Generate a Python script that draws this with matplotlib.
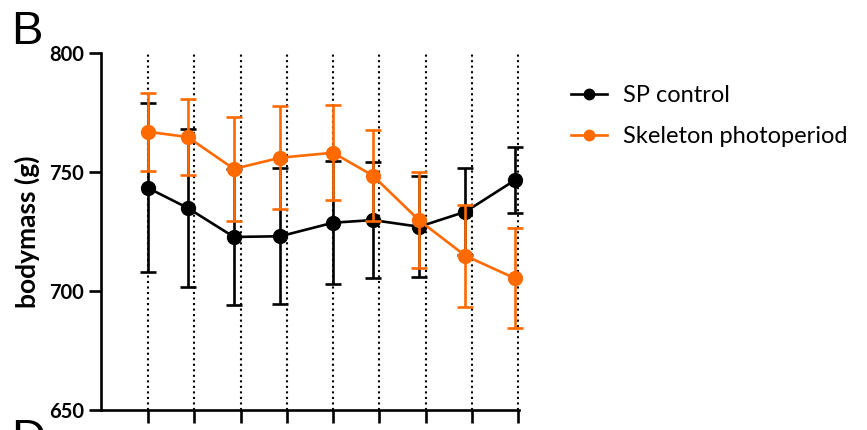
import numpy as np
import matplotlib.pyplot as plt
from matplotlib.lines import Line2D

#%% Data: body mass over time (mean +/- SD)
days          = [0, 6, 13, 20, 28, 34, 41, 48, 55.5]
week_ticks    = [0, 7, 14, 21, 28, 35, 42, 49, 56]

sp_mean       = [743.3, 734.9, 722.7, 723.0, 728.7, 729.8, 727.0, 733.3, 746.6]
sp_sd         = [35.5, 33.1, 28.6, 28.6, 25.9, 24.2, 21.3, 18.2, 14.0]

skel_mean     = [766.9, 764.7, 751.3, 756.0, 758.1, 748.5, 729.7, 714.8, 705.3]
skel_sd       = [16.3, 16.1, 22.0, 21.6, 19.9, 19.1, 20.1, 21.5, 21.0]

black         = '#000000'
orange        = '#FF6A00'

#%% Figure
plt.rcParams['font.family'] = ['Lato', 'DejaVu Sans']
fig = plt.figure(figsize=(8.67, 4.30), dpi=100)
ax  = fig.add_axes([101/867, 20/430, 418/867, 357/430])

err_kw = dict(marker='o', markersize=10, linewidth=1.9, elinewidth=1.9,
              capsize=6, capthick=1.9, clip_on=False)
ax.errorbar(days, sp_mean, yerr=sp_sd, color=black, zorder=3, **err_kw)
ax.errorbar(days, skel_mean, yerr=skel_sd, color=orange, zorder=4, **err_kw)

ax.set_xlim(-7.1, 56.1)
ax.set_ylim(650, 800)
ax.set_xticks(week_ticks)
ax.set_xticklabels([])
ax.set_yticks([650, 700, 750, 800])
ax.xaxis.grid(True, linestyle=':', color='black', linewidth=1.5, zorder=1)
ax.set_axisbelow(True)

for side in ['top', 'right']:
    ax.spines[side].set_visible(False)
for side in ['left', 'bottom']:
    ax.spines[side].set_linewidth(1.9)

ax.tick_params(axis='both', direction='out', length=9, width=1.9, pad=3)
for lab in ax.get_yticklabels():
    lab.set_fontsize(14.5)
    lab.set_fontweight('bold')
ax.set_ylabel('bodymass (g)', fontsize=19, fontweight='bold', labelpad=7)

# legend: line + marker only, no error caps
handles = [Line2D([], [], color=black, marker='o', markersize=7.5, linewidth=1.9),
           Line2D([], [], color=orange, marker='o', markersize=7.5, linewidth=1.9)]
ax.legend(handles, ['SP control', 'Skeleton photoperiod'], loc='upper left',
          bbox_to_anchor=(550/867, 1 - 64/430), bbox_transform=fig.transFigure,
          frameon=False, fontsize=17, handlelength=1.5, handletextpad=0.7,
          labelspacing=0.85)

# panel letters
fig.text(11/867, 1 - 44/430, 'B', fontsize=34, family='Liberation Sans',
         va='baseline', ha='left')
fig.text(11/867, 1 - 452/430, 'D', fontsize=34, family='Liberation Sans',
         va='baseline', ha='left')

fig.savefig('out.png', dpi=100)
